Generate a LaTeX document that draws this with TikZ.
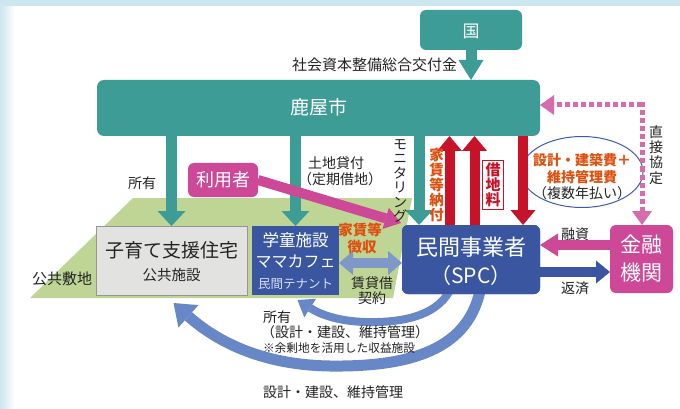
\documentclass[tikz,border=0pt]{standalone}
\usepackage{fontspec}
\setmainfont{Noto Sans CJK JP}
\usetikzlibrary{arrows.meta,shapes.geometric}
\definecolor{bgblue}{RGB}{205,230,240}
\definecolor{tealc}{RGB}{62,156,150}
\definecolor{bluec}{RGB}{58,86,160}
\definecolor{pinkc}{RGB}{206,72,152}
\definecolor{pinkl}{RGB}{214,108,174}
\definecolor{redc}{RGB}{200,18,40}
\definecolor{orangec}{RGB}{222,80,15}
\definecolor{landc}{RGB}{190,213,150}
\definecolor{grayfill}{RGB}{226,226,224}
\definecolor{grayline}{RGB}{150,150,150}
\definecolor{arcblue}{RGB}{104,135,198}
\definecolor{dblblue}{RGB}{128,152,200}
\definecolor{ellblue}{RGB}{60,90,170}
\definecolor{txtc}{RGB}{35,35,35}
\definecolor{tenant}{RGB}{215,225,245}
\newcommand{\myfs}[1]{\fontsize{#1pt}{#1pt}\selectfont}
\newcommand{\myvfs}[2]{\fontsize{#1pt}{#2pt}\selectfont}
\tikzset{
  lbl/.style={inner sep=0pt, outer sep=0pt, text=txtc},
  wlbl/.style={inner sep=0pt, outer sep=0pt, text=white},
  boxn/.style={inner sep=0pt, outer sep=0pt},
  tealbox/.style={boxn, fill=tealc, rounded corners=6pt},
  blk/.style n args={3}{line width=#1, -{Triangle[width=#2,length=#3,line width=0pt]}},
  tealarrow/.style={draw=tealc, blk={11pt}{28pt}{15pt}},
  redarrow/.style={draw=redc, blk={10pt}{25pt}{15pt}},
  pinkdash/.style={draw=pinkl, line width=5pt, dash pattern=on 5pt off 3pt, -{Triangle[width=20pt,length=14pt,line width=0pt]}},
  vlbl/.style={inner sep=0pt, outer sep=0pt, align=center},
}
\begin{document}
\begin{tikzpicture}[x=1pt,y=-1pt]
\useasboundingbox (0,0) rectangle (680,409);
\fill[white] (0,0) rectangle (680,409);
\shade[left color=bgblue, right color=white] (0,0) rectangle (15,409);
\fill[bgblue] (0,0) rectangle (680,6);

% land
\fill[landc] (30,298) -- (133,198) -- (412,198) -- (393,298) -- cycle;
\node[lbl, font=\myfs{15}] (shikichi) at (62,279) {公共敷地};

% curved arrows (under boxes)
\node[boxn, fill=bluec, rounded corners=6pt, minimum width=138pt, minimum height=69pt] (minkan) at (471,259.5) {};
\node[boxn, fill=grayfill, draw=grayline, line width=1pt, minimum width=151pt, minimum height=69pt] (kosodate) at (171.5,260.5) {};
\node[boxn, fill=bluec, minimum width=87pt, minimum height=69pt] (gakudo) at (295.5,260.5) {};
\draw[arcblue, blk={11pt}{30pt}{20pt}] ([xshift=10pt,yshift=8pt]minkan.south) .. controls (470,350) and (410,367) .. (330,366) .. controls (260,365) and (215,340) .. ([xshift=2pt,yshift=-8pt]kosodate.south);
\draw[arcblue, blk={8pt}{22pt}{15pt}] ([xshift=-19pt,yshift=8pt]minkan.south) .. controls (440,315) and (405,323) .. (365,322) .. controls (335,321) and (318,313) .. ([xshift=2pt,yshift=-5pt]gakudo.south);
% redraw boxes on top
\node[boxn, fill=bluec, rounded corners=6pt, minimum width=138pt, minimum height=69pt] (minkanB) at (471,259.5) {};
\node[boxn, fill=grayfill, draw=grayline, line width=1pt, minimum width=151pt, minimum height=69pt] (kosodateB) at (171.5,260.5) {};
\node[boxn, fill=bluec, minimum width=87pt, minimum height=69pt] (gakudoB) at (295.5,260.5) {};

% other boxes
\node[tealbox, minimum width=102pt, minimum height=40pt] (kuni) at (471,30) {};
\node[tealbox, rounded corners=7pt, minimum width=443pt, minimum height=56pt] (kanoya) at (318.5,108) {};
\node[boxn, fill=pinkc, rounded corners=6pt, minimum width=63pt, minimum height=68pt] (kinyu) at (641.5,259) {};
\node[boxn, fill=pinkc, rounded corners=6pt, minimum width=70pt, minimum height=34pt] (riyosha) at (223,180) {};
\node[boxn, draw=ellblue, fill=white, line width=1pt, ellipse, minimum width=122pt, minimum height=71pt] (ell) at (582,172) {};

% coordinates for arrow columns
\coordinate (xm) at (419,0);
\coordinate (xr1) at (449.5,0);
\coordinate (xr2) at (474.5,0);
\coordinate (xr3) at (523,0);
\coordinate (yyushi) at (0,245);
\coordinate (yhensai) at (0,272);
\coordinate (ychin) at (0,263);
\coordinate (dcorner) at (642,105);

% arrows
\draw[draw=tealc, blk={11pt}{25pt}{20pt}] (kuni.south) -- (kanoya.north -| kuni.south);
\draw[tealarrow] (kanoya.south -| kosodate.north) -- (kosodate.north);
\draw[tealarrow] (kanoya.south -| gakudo.north) -- (gakudo.north);
\draw[tealarrow] (kanoya.south -| xm) -- (minkan.north -| xm);
\draw[redarrow] (minkan.north -| xr1) -- (kanoya.south -| xr1);
\draw[redarrow] (minkan.north -| xr2) -- (kanoya.south -| xr2);
\draw[redarrow] (kanoya.south -| xr3) -- (minkan.north -| xr3);
\draw[draw=pinkc, blk={10pt}{22pt}{16pt}] (riyosha.east) -- ([xshift=-1pt,yshift=2pt]minkan.north west);
\draw[draw=dblblue, line width=10pt, {Triangle[width=24pt,length=14pt,line width=0pt]}-{Triangle[width=24pt,length=14pt,line width=0pt]}] (gakudo.east |- ychin) -- (minkan.west |- ychin);
\draw[draw=pinkc, blk={10pt}{23pt}{18pt}] (kinyu.west |- yyushi) -- (minkan.east |- yyushi);
\draw[draw=bluec, blk={10pt}{23pt}{14pt}] (minkan.east |- yhensai) -- (kinyu.west |- yhensai);
\draw[pinkdash] (dcorner) -- (kanoya.east |- dcorner);
\draw[pinkdash] ([yshift=2.5pt]dcorner) -- (kinyu.north -| dcorner);

% box texts
\node[wlbl, font=\myfs{17}] (kuniT) at (471,31) {国};
\node[wlbl, font=\myfs{19}] (kanoyaT) at (318.5,107) {鹿屋市};
\node[lbl, font=\myfs{19}] (kosoT1) at (171.5,250) {子育て支援住宅};
\node[lbl, font=\myfs{14.5}] (kosoT2) at (171.5,275) {公共施設};
\node[wlbl, font=\myfs{16.5}] (gakuT1) at (295.5,240) {学童施設};
\node[wlbl, font=\myfs{16}] (gakuT2) at (295.5,262) {ママカフェ};
\node[boxn, text=tenant, font=\myfs{12.5}] (gakuT3) at (295.5,284) {民間テナント};
\node[wlbl, font=\myfs{22}] (minT1) at (471,247) {民間事業者};
\node[wlbl, font=\myfs{21}] (minT2) at (471,276) {（SPC）};
\node[wlbl, font=\myfs{21}] (kinT1) at (641.5,245) {金融};
\node[wlbl, font=\myfs{21}] (kinT2) at (641.5,273) {機関};
\node[wlbl, font=\myfs{18}] (riyoT) at (223,180) {利用者};

% labels
\node[lbl, anchor=east, font=\myfs{15}] (koufu) at (457,65) {社会資本整備総合交付金};
\node[lbl, font=\myfs{14}] (shoyu1) at (142,183) {所有};
\node[lbl, font=\myfs{14}] (tochi1) at (336,163) {土地貸付};
\node[lbl, font=\myfs{14}] (tochi2) at (340,179) {（定期借地）};
\node[vlbl, text=txtc, font=\myvfs{14}{14.5}] (monita) at (400,181) {モ\\ニ\\タ\\リ\\ン\\グ};
\node[vlbl, text=orangec, font=\bfseries\myvfs{14.5}{15}] (yachin) at (436.5,185) {家\\賃\\等\\納\\付};
\node[vlbl, draw=redc, fill=white, line width=1pt, minimum width=21pt, minimum height=48pt, text=redc, font=\bfseries\myvfs{15}{15}] (shakuchi) at (493,185) {借\\地\\料};
\node[lbl, text=orangec, font=\bfseries\myfs{14}] (ellT1) at (582,160) {設計・建築費＋};
\node[lbl, text=orangec, font=\bfseries\myfs{14}] (ellT2) at (582,177) {維持管理費};
\node[lbl, font=\myfs{14}] (ellT3) at (582,193) {（複数年払い）};
\node[vlbl, text=txtc, font=\myvfs{14}{15.3}] (chokusetsu) at (656,155) {直\\接\\協\\定};
\node[lbl, font=\myfs{14}] (yushi) at (575,234) {融資};
\node[lbl, font=\myfs{14}] (hensai) at (575,288) {返済};
\node[lbl, text=orangec, font=\bfseries\myfs{14.5}] (choshu1) at (360,230) {家賃等};
\node[lbl, text=orangec, font=\bfseries\myfs{14.5}] (choshu2) at (362,247) {徴収};
\node[lbl, font=\myfs{14}] (chintai1) at (372,283) {賃貸借};
\node[lbl, font=\myfs{14}] (chintai2) at (372,298) {契約};
\node[lbl, anchor=west, font=\myfs{14}] (shoyu2) at (263,317) {所有};
\node[lbl, anchor=west, font=\myfs{14}] (sekkei1) at (261,332) {（設計・建設、維持管理）};
\node[lbl, anchor=west, font=\myfs{11.7}] (yojo) at (263,348) {※余剰地を活用した収益施設};
\node[lbl, anchor=west, font=\myfs{14}] (sekkei2) at (263,392) {設計・建設、維持管理};
\end{tikzpicture}
\end{document}
